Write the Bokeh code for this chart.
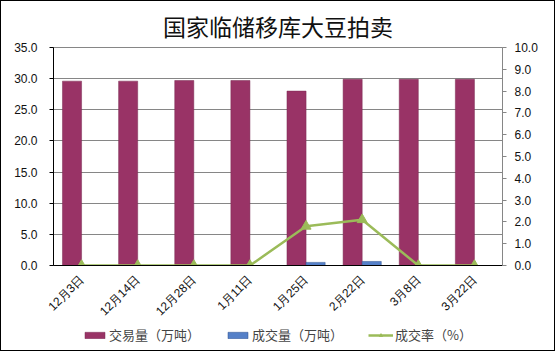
from bokeh.plotting import figure
from bokeh.models import (FactorRange, Range1d, LinearAxis, FixedTicker, NumeralTickFormatter,
                          ColumnDataSource, Legend, LegendItem)
from bokeh.layouts import column
from bokeh.transform import dodge
from bokeh.embed import file_html
from bokeh.resources import INLINE
import math

categories = ["12月3日", "12月14日", "12月28日", "1月11日", "1月25日", "2月22日", "3月8日", "3月22日"]
trade_volume = [29.6, 29.6, 29.7, 29.7, 28.0, 29.9, 29.9, 29.9]
deal_volume = [0.0, 0.0, 0.0, 0.0, 0.5, 0.65, 0.0, 0.0]
deal_rate = [0.0, 0.0, 0.0, 0.0, 1.8, 2.1, 0.0, 0.0]
left_ticks = [0, 5, 10, 15, 20, 25, 30, 35]
right_ticks = [0, 1, 2, 3, 4, 5, 6, 7, 8, 9, 10]
series_names = ["交易量（万吨）", "成交量（万吨）", "成交率（%）"]

MAROON, BLUE, GREEN = "#993366", "#5580C8", "#9BBB59"

src = ColumnDataSource(dict(cat=categories, trade=trade_volume, deal=deal_volume, rate=deal_rate))

p = figure(width=553, height=325, x_range=FactorRange(*categories, range_padding=0),
           y_range=Range1d(0, 35), output_backend="svg", toolbar_location=None,
           min_border_left=52, min_border_right=52, min_border_top=44, min_border_bottom=61)
p.extra_y_ranges = {"rate": Range1d(0, 10)}

FONT = "Liberation Sans"
p.title.text = "国家临储移库大豆拍卖"
p.title.align = "center"
p.title.offset = -11
p.title.text_font = "Noto Sans CJK SC"
p.title.text_font_size = "23px"
p.title.text_font_style = "normal"
p.title.text_color = "#111111"

p.outline_line_color = "#868686"
p.background_fill_color = "white"
p.xgrid.grid_line_color = None
p.ygrid.grid_line_color = "#868686"
p.ygrid.ticker = FixedTicker(ticks=left_ticks)

p.vbar(x=dodge("cat", -0.17, range=p.x_range), top="trade", width=0.34, source=src,
       fill_color=MAROON, line_color="#7a2a52", line_width=0.5)
p.vbar(x=dodge("cat", 0.17, range=p.x_range), top="deal", width=0.34, source=src,
       fill_color=BLUE, line_color="#2a4f8f", line_width=0.5)
p.line(x="cat", y="rate", source=src, y_range_name="rate", line_color=GREEN, line_width=2.5)
p.scatter(x="cat", y="rate", source=src, y_range_name="rate", marker="triangle", size=10,
          fill_color=GREEN, line_color=GREEN)

ya = p.yaxis[0]
ya.ticker = FixedTicker(ticks=left_ticks)
ya.formatter = NumeralTickFormatter(format="0.0")
ra = LinearAxis(y_range_name="rate", ticker=FixedTicker(ticks=right_ticks),
                formatter=NumeralTickFormatter(format="0.0"))
p.add_layout(ra, "right")
for ax in (ya, ra):
    ax.axis_line_color = "black" if ax is ya else "#868686"
    ax.major_tick_line_color = "black" if ax is ya else "#868686"
    ax.major_tick_in = 0
    ax.major_tick_out = 4
    ax.minor_tick_line_color = None
    ax.major_label_text_font = FONT
    ax.major_label_text_font_size = "12px"
    ax.major_label_text_color = "#111111"
ya.major_label_standoff = 12
ra.major_label_standoff = 8

xa = p.xaxis[0]
xa.axis_line_color = "black"
xa.major_tick_line_color = None
xa.minor_tick_line_color = None
xa.major_label_orientation = math.pi / 4
xa.major_label_text_font = FONT
xa.major_label_text_font_size = "12px"
xa.major_label_text_color = "#111111"
xa.major_label_standoff = 6

# legend strip (its frame is aligned with the chart frame by the column layout)
lf = figure(width=553, height=24, x_range=Range1d(0, 1), y_range=Range1d(0, 1),
            output_backend="svg", toolbar_location=None, min_border=0,
            x_axis_location=None, y_axis_location=None)
lf.grid.visible = False
lf.outline_line_color = None
nan = float("nan")
dummy = ColumnDataSource(dict(x=[nan], y=[nan], top=[nan]))
r1 = lf.vbar(x="x", top="top", width=1, source=dummy, fill_color=MAROON, line_color="#7a2a52", line_width=0.5)
r2 = lf.vbar(x="x", top="top", width=1, source=dummy, fill_color=BLUE, line_color="#2a4f8f", line_width=0.5)
r3 = lf.line(x="x", y="y", source=dummy, line_color=GREEN, line_width=2.5)
r4 = lf.scatter(x="x", y="y", source=dummy, marker="triangle", size=9, fill_color=GREEN, line_color=GREEN)
legend = Legend(items=[LegendItem(label=series_names[0], renderers=[r1]),
                       LegendItem(label=series_names[1], renderers=[r2]),
                       LegendItem(label=series_names[2], renderers=[r3, r4])],
                orientation="horizontal", location=(29, 6), border_line_color=None,
                label_text_font="Noto Sans CJK SC", label_text_font_size="13px",
                label_text_line_height=1.0, label_height=13,
                glyph_width=25, glyph_height=8, spacing=25, padding=1, margin=0,
                label_standoff=2, background_fill_alpha=0)
lf.add_layout(legend, "center")

layout = column(p, lf, spacing=0, styles={"border": "1px solid black"})
open("out.html", "w").write(file_html(layout, INLINE))
